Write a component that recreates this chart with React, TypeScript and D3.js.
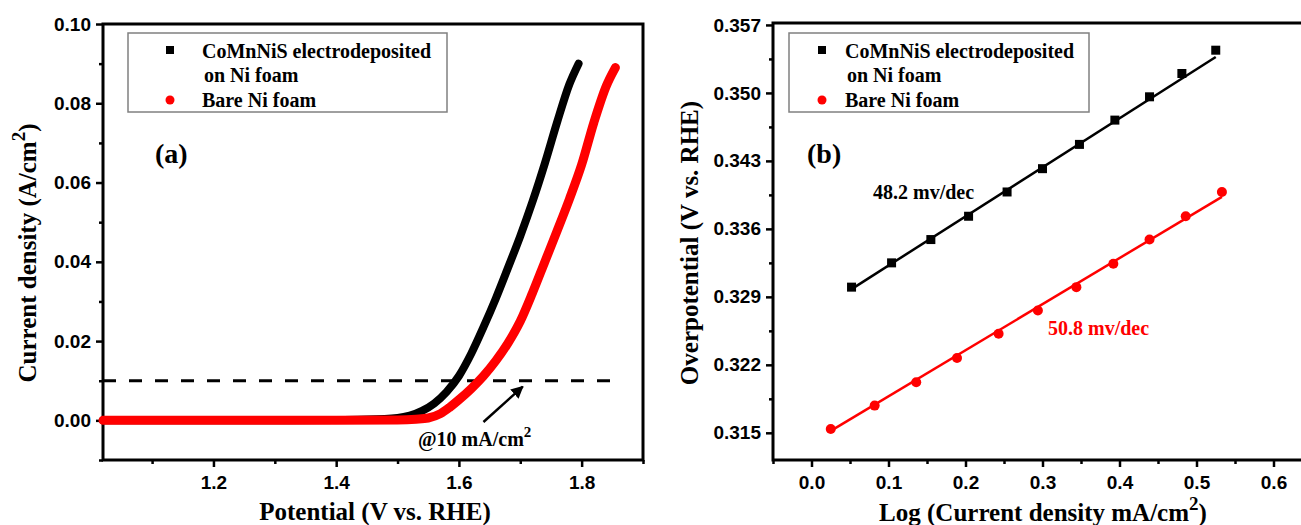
import React, { useEffect, useRef } from "react";
import * as d3 from "d3";

// (a) polarization curves
const potentialCo = [1.02, 1.1, 1.2, 1.3, 1.4, 1.45, 1.5, 1.52, 1.54, 1.56, 1.58, 1.6, 1.62, 1.64, 1.66, 1.68, 1.7, 1.72, 1.74, 1.76, 1.78, 1.795];
const currentCo = [0, 0, 0, 0, 0.0001, 0.0002, 0.0006, 0.0012, 0.0024, 0.0043, 0.0072, 0.0112, 0.0168, 0.0235, 0.0307, 0.0385, 0.0465, 0.0552, 0.0648, 0.0752, 0.0848, 0.09];
const potentialNi = [1.02, 1.1, 1.2, 1.3, 1.4, 1.5, 1.53, 1.55, 1.57, 1.585, 1.6, 1.62, 1.64, 1.66, 1.68, 1.7, 1.72, 1.74, 1.76, 1.78, 1.8, 1.82, 1.84, 1.855];
const currentNi = [0, 0, 0, 0, 0, 0.0001, 0.0003, 0.0006, 0.0017, 0.0033, 0.0052, 0.008, 0.0112, 0.015, 0.0195, 0.025, 0.0322, 0.04, 0.0478, 0.0558, 0.0645, 0.0752, 0.0843, 0.089];

// (b) Tafel plots
const logJCo = [0.052, 0.104, 0.155, 0.204, 0.254, 0.3, 0.348, 0.394, 0.439, 0.481, 0.525];
const etaCo = [0.33, 0.3325, 0.3349, 0.3373, 0.3398, 0.3422, 0.3447, 0.3472, 0.3496, 0.352, 0.3544];
const logJNi = [0.025, 0.082, 0.136, 0.189, 0.243, 0.294, 0.344, 0.392, 0.439, 0.486, 0.533];
const etaNi = [0.3154, 0.3178, 0.3202, 0.3227, 0.3252, 0.3276, 0.33, 0.3324, 0.3349, 0.3373, 0.3398];
const fitLogJCo = [0.052, 0.525];
const fitEtaCo = [0.3298, 0.3537];
const fitLogJNi = [0.025, 0.533];
const fitEtaNi = [0.3152, 0.3393];

// ticks
const potentialTicks = [1.2, 1.4, 1.6, 1.8];
const potentialMinor = [1.1, 1.3, 1.5, 1.7, 1.9];
const currentTicks = [0, 0.02, 0.04, 0.06, 0.08, 0.1];
const currentMinor = [-0.01, 0.01, 0.03, 0.05, 0.07, 0.09];
const logTicks = [0, 0.1, 0.2, 0.3, 0.4, 0.5, 0.6];
const logMinor = [-0.05, 0.05, 0.15, 0.25, 0.35, 0.45, 0.55, 0.65];
const etaTicks = [0.315, 0.322, 0.329, 0.336, 0.343, 0.35, 0.357];
const etaMinor = [0.3185, 0.3255, 0.3325, 0.3395, 0.3465, 0.3535];

const legendLabels = ["CoMnNiS electrodeposited", "on Ni foam", "Bare Ni foam"];

const SERIF = "'Liberation Serif', 'Times New Roman', serif";
const SANS = "'Liberation Sans', Arial, sans-serif";
const RED = "#ff0000";

function App() {
  const svgRef = useRef();

  useEffect(() => {
    const svg = d3.select(svgRef.current);
    svg.selectAll("*").remove();

    const xL = d3.scaleLinear().domain([1.02, 1.9]).range([103, 643]);
    const yL = d3.scaleLinear().domain([-0.01, 0.1]).range([460, 24]);
    const xR = d3.scaleLinear().domain([-0.05, 0.65]).range([773, 1312]);
    const yR = d3.scaleLinear().domain([0.3122, 0.3572]).range([460, 23]);

    // axes helper
    const drawAxes = (x, y, xt, xm, yt, ym, xf, yf) => {
      const [x0, x1] = x.range();
      const [y0, y1] = y.range();
      const styleAxis = (g) => {
        g.select(".domain").remove();
        g.selectAll("line").attr("stroke", "#000").attr("stroke-width", 2.5);
        g.selectAll("text")
          .attr("fill", "#000")
          .style("font-family", SANS)
          .style("font-weight", "bold")
          .style("font-size", "19px");
      };
      svg.append("g")
        .attr("transform", `translate(0,${y0})`)
        .call(d3.axisBottom(x).tickValues(xm).tickSize(4).tickFormat(""))
        .call(styleAxis);
      svg.append("g")
        .attr("transform", `translate(0,${y0})`)
        .call(d3.axisBottom(x).tickValues(xt).tickSize(7).tickPadding(9).tickFormat(d3.format(xf)))
        .call(styleAxis);
      svg.append("g")
        .attr("transform", `translate(${x0},0)`)
        .call(d3.axisLeft(y).tickValues(ym).tickSize(4).tickFormat(""))
        .call(styleAxis);
      svg.append("g")
        .attr("transform", `translate(${x0},0)`)
        .call(d3.axisLeft(y).tickValues(yt).tickSize(7).tickPadding(5).tickFormat(d3.format(yf)))
        .call(styleAxis);
      // frame
      svg.append("rect")
        .attr("x", x0).attr("y", y1)
        .attr("width", x1 - x0).attr("height", y0 - y1)
        .attr("fill", "none").attr("stroke", "#000").attr("stroke-width", 3);
    };

    const text = (x, y, str, size, opts = {}) =>
      svg.append("text")
        .attr("x", x).attr("y", y)
        .attr("fill", opts.fill || "#000")
        .attr("text-anchor", opts.anchor || "start")
        .style("font-family", opts.family || SERIF)
        .style("font-weight", "bold")
        .style("font-size", `${size}px`)
        .text(str);

    const legend = (bx, bw, mx, tx) => {
      svg.append("rect")
        .attr("x", bx).attr("y", 33).attr("width", bw).attr("height", 79)
        .attr("fill", "#fff").attr("stroke", "#808080").attr("stroke-width", 1.5);
      svg.append("rect").attr("x", mx - 4).attr("y", 46).attr("width", 8).attr("height", 8).attr("fill", "#000");
      svg.append("circle").attr("cx", mx).attr("cy", 100).attr("r", 4.5).attr("fill", RED);
      text(tx, 58, legendLabels[0], 20);
      text(tx + 2, 82, legendLabels[1], 20);
      text(tx, 107, legendLabels[2], 20);
    };

    // ---------- (a) ----------
    drawAxes(xL, yL, potentialTicks, potentialMinor, currentTicks, currentMinor, ".1f", ".2f");

    svg.append("line")
      .attr("x1", xL(1.02)).attr("x2", xL(1.86))
      .attr("y1", yL(0.01)).attr("y2", yL(0.01))
      .attr("stroke", "#000").attr("stroke-width", 3)
      .attr("stroke-dasharray", "13,13");

    const lineL = d3.line().x((d) => xL(d[0])).y((d) => yL(d[1])).curve(d3.curveMonotoneX);
    svg.append("path")
      .datum(d3.zip(potentialCo, currentCo))
      .attr("d", lineL)
      .attr("fill", "none").attr("stroke", "#000").attr("stroke-width", 8)
      .attr("stroke-linecap", "round").attr("stroke-linejoin", "round");
    svg.append("path")
      .datum(d3.zip(potentialNi, currentNi))
      .attr("d", lineL)
      .attr("fill", "none").attr("stroke", RED).attr("stroke-width", 9)
      .attr("stroke-linecap", "round").attr("stroke-linejoin", "round");

    // arrow annotation
    svg.append("defs").append("marker")
      .attr("id", "arrowhead")
      .attr("viewBox", "0 0 10 10")
      .attr("refX", 9).attr("refY", 5)
      .attr("markerWidth", 5).attr("markerHeight", 5)
      .attr("orient", "auto")
      .append("path").attr("d", "M0,0L10,5L0,10z").attr("fill", "#000");
    svg.append("line")
      .attr("x1", xL(1.64)).attr("y1", yL(-0.0004))
      .attr("x2", xL(1.704)).attr("y2", yL(0.0085))
      .attr("stroke", "#000").attr("stroke-width", 2.5)
      .attr("marker-end", "url(#arrowhead)");
    const at = text(418, 446, "@10 mA/cm", 20);
    at.append("tspan").attr("dy", -9).style("font-size", "15px").text("2");

    text(155, 163, "(a)", 28);
    legend(128, 319, 170, 202);

    // ---------- (b) ----------
    drawAxes(xR, yR, logTicks, logMinor, etaTicks, etaMinor, ".1f", ".3f");

    const lineR = d3.line().x((d) => xR(d[0])).y((d) => yR(d[1]));
    svg.append("path")
      .datum(d3.zip(fitLogJCo, fitEtaCo))
      .attr("d", lineR).attr("stroke", "#000").attr("stroke-width", 2.5).attr("fill", "none");
    svg.append("path")
      .datum(d3.zip(fitLogJNi, fitEtaNi))
      .attr("d", lineR).attr("stroke", RED).attr("stroke-width", 2.5).attr("fill", "none");

    svg.append("g").selectAll("rect")
      .data(d3.zip(logJCo, etaCo))
      .join("rect")
      .attr("x", (d) => xR(d[0]) - 4.5).attr("y", (d) => yR(d[1]) - 4.5)
      .attr("width", 9).attr("height", 9).attr("fill", "#000");
    svg.append("g").selectAll("circle")
      .data(d3.zip(logJNi, etaNi))
      .join("circle")
      .attr("cx", (d) => xR(d[0])).attr("cy", (d) => yR(d[1]))
      .attr("r", 5).attr("fill", RED);

    text(873, 199, "48.2 mv/dec", 20);
    text(1048, 335, "50.8 mv/dec", 20, { fill: RED });
    text(807, 163, "(b)", 28);
    legend(789, 300, 822, 845);

    // ---------- axis titles ----------
    text(375, 520, "Potential (V vs. RHE)", 25, { anchor: "middle" });
    const rx = text(1043, 521, "Log (Current density mA/cm", 25, { anchor: "middle" });
    rx.append("tspan").attr("dy", -11).style("font-size", "19px").text("2");
    rx.append("tspan").attr("dy", 11).text(")");

    const ly = text(0, 0, "Current density (A/cm", 25, { anchor: "middle" })
      .attr("transform", "translate(36,253) rotate(-90)");
    ly.append("tspan").attr("dy", -11).style("font-size", "19px").text("2");
    ly.append("tspan").attr("dy", 11).text(")");
    text(0, 0, "Overpotential (V vs. RHE)", 25, { anchor: "middle" })
      .attr("transform", "translate(698,243) rotate(-90)");
  }, []);

  return (
    <svg
      ref={svgRef}
      width={1301}
      height={525}
      style={{ position: "absolute", left: 0, top: 0, background: "#fff" }}
    ></svg>
  );
}

export default App;
